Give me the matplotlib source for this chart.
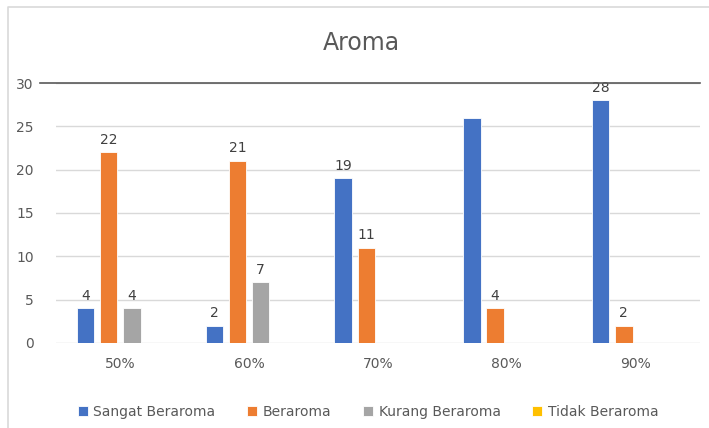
import matplotlib.pyplot as plt
import numpy as np
from matplotlib.lines import Line2D

categories = ['50%', '60%', '70%', '80%', '90%']
series_names = ['Sangat Beraroma', 'Beraroma', 'Kurang Beraroma', 'Tidak Beraroma']
sangat = [4, 2, 19, 26, 28]
beraroma = [22, 21, 11, 4, 2]
kurang = [4, 7, 0, 0, 0]
tidak = [0, 0, 0, 0, 0]
# labels Excel actually shows (26 is hidden in the original)
sangat_labels = ['4', '2', '19', '', '28']
beraroma_labels = ['22', '21', '11', '4', '2']
kurang_labels = ['4', '7', '', '', '']
tidak_labels = ['', '', '', '', '']
colors = ['#4472C4', '#ED7D31', '#A5A5A5', '#FFC000']

plt.rcParams['font.family'] = ['DejaVu Sans']
fig = plt.figure(figsize=(7.09, 4.28), dpi=100)
ax = fig.add_axes([0.079, 0.199, 0.908, 0.607])

x = np.arange(len(categories))
width = 0.135
step = 0.18
all_vals = [sangat, beraroma, kurang, tidak]
all_labels = [sangat_labels, beraroma_labels, kurang_labels, tidak_labels]
for i, (vals, labs) in enumerate(zip(all_vals, all_labels)):
    pos = x + (i - 1.5) * step
    bars = ax.bar(pos, vals, width, color=colors[i], label=series_names[i],
                  edgecolor='white', linewidth=0.6, zorder=3)
    ax.bar_label(bars, labels=labs, padding=4, fontsize=10, color='#404040')

ax.set_xlim(-0.5, len(categories) - 0.5)
ax.set_ylim(0, 30)
ax.set_yticks(range(0, 31, 5))
ax.set_xticks(x)
ax.set_xticklabels(categories)
ax.tick_params(axis='both', length=0, labelsize=10, colors='#595959')
ax.tick_params(axis='y', pad=16)
ax.tick_params(axis='x', pad=10)
for s in ax.spines.values():
    s.set_visible(False)
ax.yaxis.grid(True, color='#D9D9D9', linewidth=1, zorder=0)
ax.set_axisbelow(True)
# dark top line at 30
ax.plot([-0.025, 1], [1, 1], transform=ax.transAxes, color='#595959', lw=1.2,
        clip_on=False, zorder=4)

fig.text(0.51, 0.9, 'Aroma', ha='center', va='center', fontsize=17,
         color='#595959')
ax.legend(loc='center', bbox_to_anchor=(0.485, -0.265), ncol=4, frameon=False,
          fontsize=10, handlelength=0.7, handleheight=0.7, columnspacing=2.3,
          handletextpad=0.4, labelcolor='#595959')

# chart area border (top and left visible)
fig.lines.append(Line2D([8 / 709, 8 / 709, 1], [0, 1 - 7 / 428, 1 - 7 / 428],
                        transform=fig.transFigure, color='#D9D9D9', lw=1.2))
fig.savefig('out.png', dpi=100)
